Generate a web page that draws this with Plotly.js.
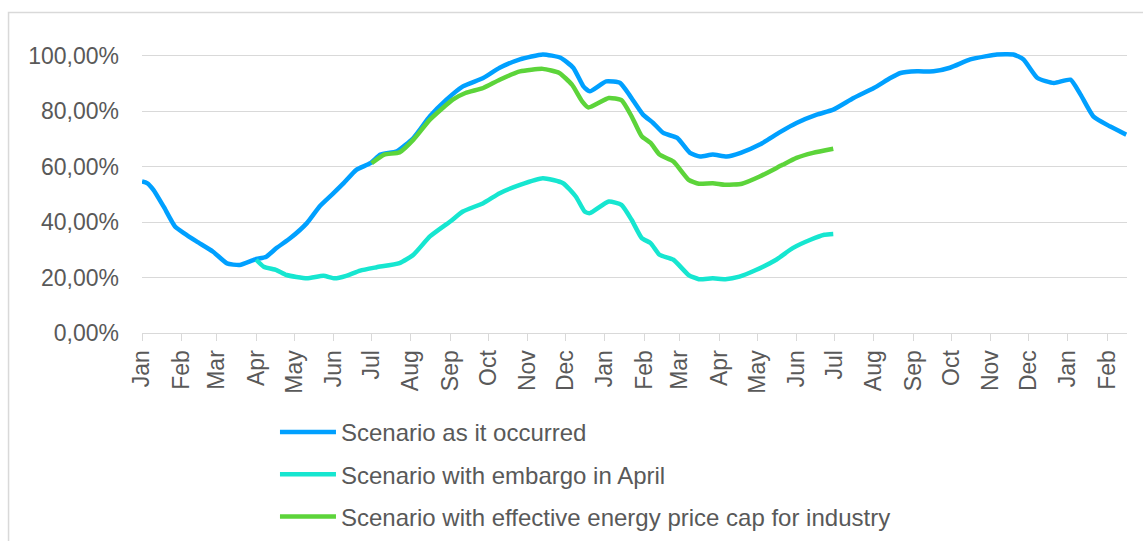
<!DOCTYPE html>
<html>
<head>
<meta charset="utf-8">
<script src="https://cdn.plot.ly/plotly-3.0.1.min.js"></script>
<style>
html,body{margin:0;padding:0;background:#fff;}
#chart{width:1143px;height:541px;}
</style>
</head>
<body>
<div id="chart"></div>
<script>
// ---- data ----
const seriesNames = [
  "Scenario as it occurred",
  "Scenario with embargo in April",
  "Scenario with effective energy price cap for industry"
];

const occurredDates = [
  "2022-01-01","2022-01-05","2022-01-10","2022-01-18","2022-01-27","2022-02-03","2022-02-13","2022-02-26",
  "2022-03-09","2022-03-19","2022-03-31","2022-04-09","2022-04-17","2022-04-28","2022-05-11","2022-05-21",
  "2022-06-01","2022-06-09","2022-06-19","2022-06-30","2022-07-08","2022-07-21","2022-08-03","2022-08-16",
  "2022-08-29","2022-09-11","2022-09-27","2022-10-10","2022-10-26","2022-11-13","2022-11-27","2022-12-07",
  "2022-12-15","2022-12-20","2023-01-02","2023-01-13","2023-01-21","2023-01-31","2023-02-08","2023-02-16",
  "2023-02-27","2023-03-09","2023-03-17","2023-03-27","2023-04-07","2023-04-18","2023-05-03","2023-05-19",
  "2023-06-01","2023-06-17","2023-06-30","2023-07-16","2023-08-01","2023-08-14","2023-08-22","2023-09-04",
  "2023-09-17","2023-09-30","2023-10-16","2023-10-29","2023-11-06","2023-11-19","2023-11-27","2023-12-08",
  "2023-12-21","2024-01-03","2024-01-11","2024-01-21","2024-02-03","2024-02-16"
];
const occurredValues = [
  0.546,0.540,0.516,0.456,0.384,0.360,0.330,0.293,
  0.251,0.245,0.265,0.275,0.306,0.342,0.396,0.456,
  0.504,0.540,0.588,0.612,0.643,0.655,0.703,0.781,
  0.841,0.889,0.919,0.956,0.986,1.004,0.992,0.956,
  0.889,0.871,0.907,0.901,0.853,0.787,0.757,0.721,
  0.703,0.649,0.636,0.643,0.636,0.649,0.679,0.724,
  0.757,0.787,0.805,0.847,0.883,0.919,0.937,0.943,
  0.943,0.956,0.986,0.998,1.004,1.004,0.986,0.919,
  0.901,0.913,0.859,0.781,0.745,0.715
];

const embargoDates = [
  "2022-04-01","2022-04-07","2022-04-17","2022-04-25","2022-05-11","2022-05-24","2022-06-02","2022-06-11",
  "2022-06-22","2022-07-05","2022-07-23","2022-08-03","2022-08-16","2022-09-01","2022-09-11","2022-09-27",
  "2022-10-10","2022-10-26","2022-11-13","2022-11-29","2022-12-09","2022-12-16","2022-12-20","2023-01-04",
  "2023-01-14","2023-01-22","2023-01-30","2023-02-06","2023-02-13","2023-02-24","2023-03-08","2023-03-16",
  "2023-03-27","2023-04-06","2023-04-17","2023-04-30","2023-05-16","2023-05-29","2023-06-12","2023-06-23",
  "2023-06-30"
];
const embargoValues = [
  0.264,0.239,0.227,0.209,0.197,0.206,0.197,0.206,
  0.225,0.237,0.252,0.282,0.348,0.402,0.438,0.468,
  0.504,0.534,0.558,0.540,0.492,0.438,0.432,0.474,
  0.462,0.408,0.342,0.324,0.282,0.264,0.209,0.194,
  0.197,0.194,0.203,0.227,0.264,0.306,0.336,0.354,
  0.357
];

const priceCapDates = [
  "2022-07-01","2022-07-11","2022-07-23","2022-08-03","2022-08-16","2022-09-03","2022-09-13","2022-09-27",
  "2022-10-10","2022-10-26","2022-11-13","2022-11-26","2022-12-06","2022-12-14","2022-12-19","2023-01-04",
  "2023-01-14","2023-01-22","2023-01-30","2023-02-06","2023-02-13","2023-02-24","2023-03-08","2023-03-16",
  "2023-03-27","2023-04-06","2023-04-19","2023-05-03","2023-05-21","2023-06-01","2023-06-14","2023-06-30"
];
const priceCapValues = [
  0.612,0.643,0.651,0.697,0.769,0.841,0.865,0.883,
  0.913,0.943,0.952,0.937,0.895,0.835,0.813,0.847,
  0.839,0.781,0.709,0.685,0.643,0.618,0.552,0.538,
  0.540,0.534,0.538,0.564,0.606,0.631,0.649,0.664
];

const yTickValues = [0, 0.2, 0.4, 0.6, 0.8, 1.0];

// ---- styles ----
const colors = ["#00A0FF", "#16E6D0", "#5CD43A"];
const textColor = "#595959";
const gridColor = "#D9D9D9";
const fontFamily = "Liberation Sans, Arial, sans-serif";

function mkTrace(x, y, i) {
  return {
    type: "scatter", mode: "lines", x: x, y: y, name: seriesNames[i],
    legendgroup: "g" + i,
    line: {color: colors[i], width: 4.5, shape: "spline", smoothing: 0.5},
    hoverinfo: "x+y"
  };
}

const data = [
  mkTrace(occurredDates, occurredValues, 0),
  mkTrace(embargoDates, embargoValues, 1),
  mkTrace(priceCapDates, priceCapValues, 2)
];

const layout = {
  width: 1143, height: 541,
  margin: {l: 142, r: 16, t: 50, b: 208, autoexpand: false},
  paper_bgcolor: "#fff", plot_bgcolor: "#fff",
  separators: ", ",
  font: {family: fontFamily, size: 23, color: textColor},
  showlegend: true,
  legend: {
    orientation: "v", x: 0.135, y: -0.272, xanchor: "left", yanchor: "top",
    font: {family: fontFamily, size: 24, color: textColor},
    tracegroupgap: 8, itemwidth: 56, bgcolor: "rgba(0,0,0,0)"
  },
  xaxis: {
    type: "date",
    range: ["2022-01-01", "2024-02-16 14:00"],
    tick0: "2022-01-01", dtick: "M1", tickformat: "%b",
    tickangle: -90,
    ticks: "outside", ticklen: 7, tickcolor: gridColor, tickwidth: 1,
    showline: true, linecolor: gridColor, linewidth: 1,
    showgrid: false, zeroline: false,
    tickfont: {family: fontFamily, size: 23, color: textColor},
    automargin: false
  },
  yaxis: {
    range: [0, 1.02],
    tickmode: "array", tickvals: yTickValues, tickformat: ".2%",
    showgrid: true, gridcolor: gridColor, gridwidth: 1,
    zeroline: false, showline: false, ticks: "",
    ticklabelstandoff: 22,
    tickfont: {family: fontFamily, size: 23, color: textColor},
    automargin: false
  },
  shapes: [{
    type: "path", xref: "paper", yref: "paper",
    path: "M -0.1355,-1 L -0.1355,1.1325 L 1.3,1.1325",
    line: {color: gridColor, width: 1.5}
  }]
};

Plotly.newPlot("chart", data, layout, {displayModeBar: false, staticPlot: false});
</script>
</body>
</html>
